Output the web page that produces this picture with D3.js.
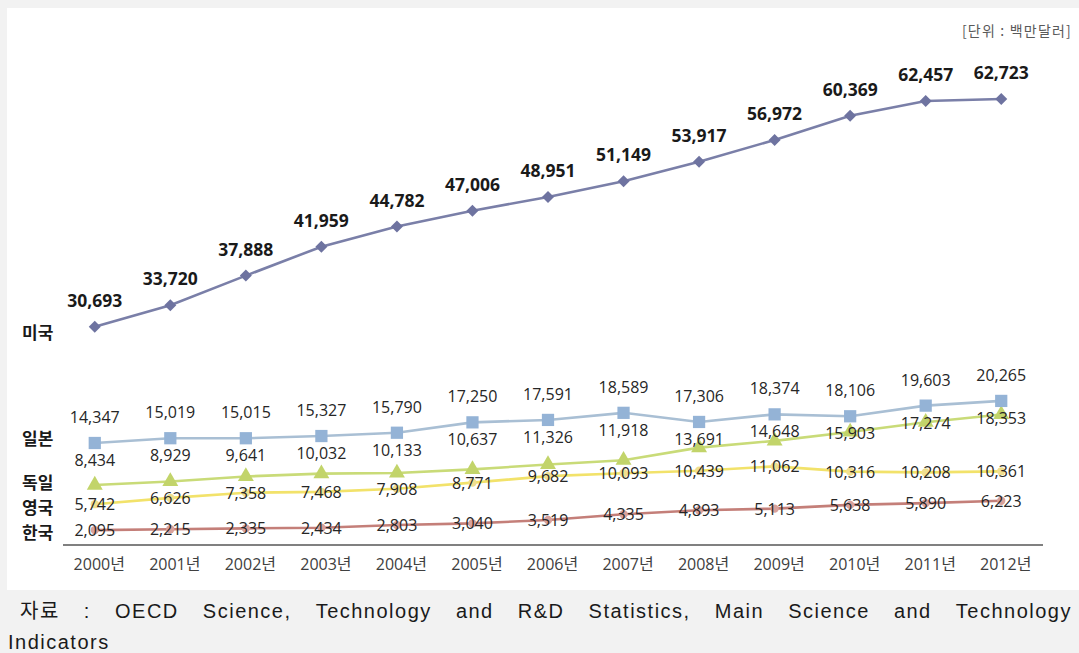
<!DOCTYPE html>
<html><head><meta charset="utf-8">
<script src="https://cdn.jsdelivr.net/npm/d3@7"></script>
<style>
html,body{margin:0;padding:0;background:#f2f2f2;}
svg{display:block;}
</style></head>
<body>
<svg id="chart" width="1079" height="653"></svg>
<script>
const years = ["2000년","2001년","2002년","2003년","2004년","2005년","2006년","2007년","2008년","2009년","2010년","2011년","2012년"];
const usa     = [30693,33720,37888,41959,44782,47006,48951,51149,53917,56972,60369,62457,62723];
const japan   = [14347,15019,15015,15327,15790,17250,17591,18589,17306,18374,18106,19603,20265];
const germany = [8434,8929,9641,10032,10133,10637,11326,11918,13691,14648,15903,17274,18353];
const uk      = [5742,6626,7358,7468,7908,8771,9682,10093,10439,11062,10316,10208,10361];
const korea   = [2095,2215,2335,2434,2803,3040,3519,4335,4893,5113,5638,5890,6223];
const seriesNames = ["미국","일본","독일","영국","한국"];
const unitLabel = "[단위 : 백만달러]";
const sourceWords = ["자료",":","OECD","Science,","Technology","and","R&D","Statistics,","Main","Science","and","Technology"];
const sourceLine2 = "Indicators";

const svg = d3.select("#chart");
const numFont = "'Open Sans','Noto Sans CJK KR',sans-serif";
const korFont = "'Noto Sans CJK KR',sans-serif";

// white panel
svg.append("rect").attr("x",7).attr("y",8).attr("width",1072).attr("height",582).attr("fill","#ffffff");

const x = d3.scalePoint().domain(years).range([57,1039]).padding(0.5);
const y = d3.scaleLinear().domain([0,70000]).range([545,47.3]);

// x axis
const axisG = svg.append("g").attr("transform","translate(0,545)");
axisG.append("line").attr("x1",63).attr("x2",1043).attr("y1",0).attr("y2",0)
  .attr("stroke","#808080").attr("stroke-width",2);
const ax = d3.axisBottom(x).tickSize(0).tickPadding(0);
const axG2 = svg.append("g").attr("transform","translate(4,545)").call(ax);
axG2.select(".domain").remove();
axG2.selectAll("text").attr("font-family",numFont).attr("font-size",16).attr("fill","#404040")
  .attr("dy",null).attr("y",19).attr("dominant-baseline","central");

const series = [
  {name:seriesNames[0], values:usa,     line:"#7a7fa8", mark:"#6e73a0", shape:d3.symbolSquare,  size:72,  rot:45},
  {name:seriesNames[1], values:japan,   line:"#a9bfd4", mark:"#94b3d6", shape:d3.symbolSquare,  size:150, rot:0},
  {name:seriesNames[2], values:germany, line:"#c9db78", mark:"#c2d46a", shape:d3.symbolTriangle,size:110, rot:0},
  {name:seriesNames[3], values:uk,      line:"#f2e26a", mark:"#f0df8f", shape:d3.symbolCircle,  size:55,  rot:0},
  {name:seriesNames[4], values:korea,   line:"#c47f79", mark:"#d9a29c", shape:d3.symbolCircle,  size:55,  rot:0}
];

const lineGen = d3.line().x((d,i)=>x(years[i])).y(d=>y(d));
const fmt = d3.format(",");

// draw lines from bottom series up
[...series].reverse().forEach(s=>{
  svg.append("path").datum(s.values).attr("d",lineGen)
    .attr("fill","none").attr("stroke",s.line).attr("stroke-width",2.6);
  svg.append("g").selectAll("path").data(s.values).join("path")
    .attr("d",d3.symbol().type(s.shape).size(s.size))
    .attr("transform",(d,i)=>`translate(${x(years[i])},${y(d)}) rotate(${s.rot})`)
    .attr("fill",s.mark);
});

// labels
function labels(vals, yf, opts){
  svg.append("g").selectAll("text").data(vals).join("text")
    .attr("x",(d,i)=>x(years[i]))
    .attr("y",(d,i)=>yf(d,i))
    .attr("text-anchor","middle").attr("dominant-baseline","central")
    .attr("font-family",numFont).attr("font-size",opts.size)
    .attr("font-weight",opts.weight||400).attr("fill",opts.fill||"#262626")
    .text(d=>fmt(d));
}
labels(usa,(d)=>y(d)-27,{size:17.5,weight:700,fill:"#1a1a1a"});
labels(japan,(d)=>y(d)-26,{size:16});
labels(germany,(d,i)=>y(japan[i])+17,{size:16});
labels(uk,(d)=>y(d),{size:16});
labels(korea,(d)=>y(d),{size:16});

// series name labels
const nameOffsets = [5,-5,-4,2,1];
svg.append("g").selectAll("text").data(series).join("text")
  .attr("x",22).attr("y",(s,i)=>y(s.values[0])+nameOffsets[i])
  .attr("dominant-baseline","central")
  .attr("font-family",korFont).attr("font-size",17).attr("font-weight",700).attr("fill","#1a1a1a")
  .text(s=>s.name);

// unit label
svg.append("text").attr("x",1072).attr("y",30).attr("text-anchor","end").attr("dominant-baseline","central")
  .attr("font-family",korFont).attr("font-size",14).attr("letter-spacing",1.2).attr("fill","#595959").text(unitLabel);

// footer line 1 justified
const srcFont = "'Liberation Sans','Noto Sans CJK KR',sans-serif";
const fg = svg.append("g");
const words = fg.selectAll("text").data(sourceWords).join("text")
  .attr("y",611).attr("dominant-baseline","central")
  .attr("font-family",srcFont).attr("font-size",20).attr("letter-spacing",1.5).attr("fill","#1a1a1a")
  .text(d=>d);
const widths = []; words.each(function(){widths.push(this.getComputedTextLength());});
const startX = 20, endX = 1072;
const total = d3.sum(widths);
const gap = (endX-startX-total)/(sourceWords.length-1);
let cx = startX;
words.each(function(d,i){ d3.select(this).attr("x",cx); cx += widths[i]+gap; });

svg.append("text").attr("x",8).attr("y",642).attr("dominant-baseline","central")
  .attr("font-family",srcFont).attr("font-size",20).attr("letter-spacing",1.5).attr("fill","#1a1a1a")
  .text(sourceLine2);
</script>
</body></html>
